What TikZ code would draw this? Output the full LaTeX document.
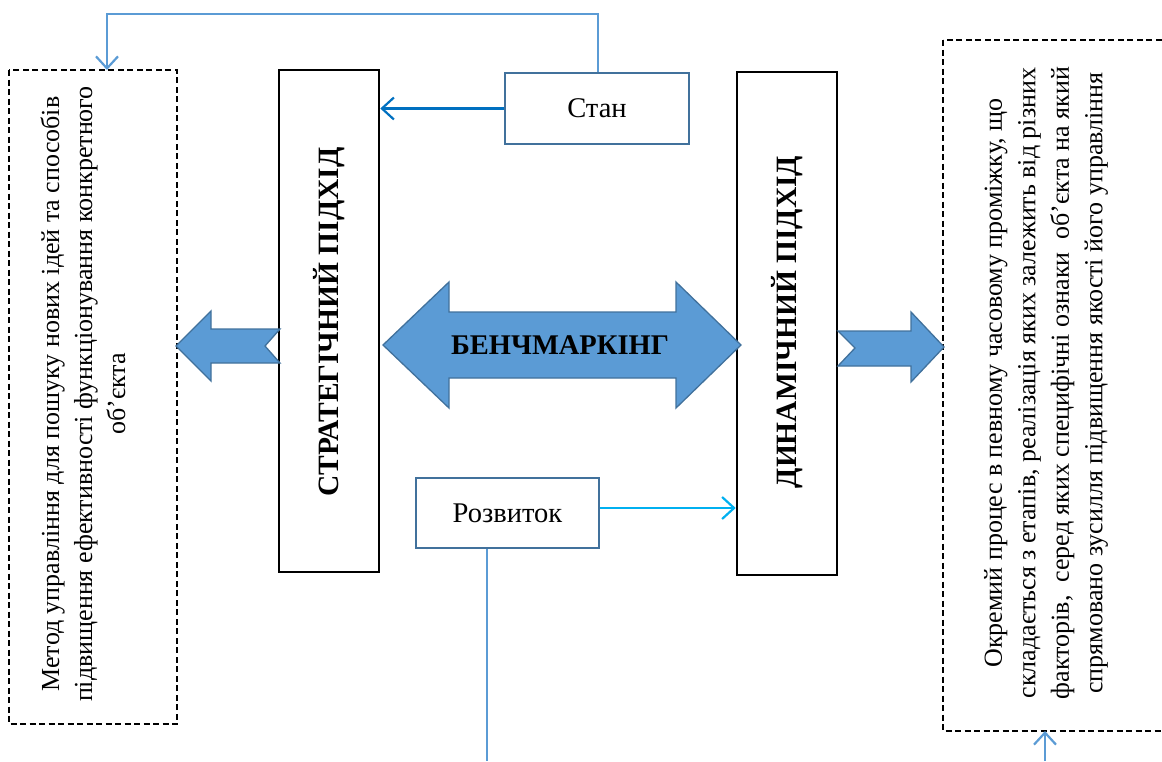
\documentclass[tikz,border=0pt]{standalone}
\usepackage{fontspec}
\setmainfont{Liberation Serif}
\usetikzlibrary{arrows.meta}
\definecolor{boxblue}{HTML}{41719C}
\definecolor{lineblue}{HTML}{5B9BD5}
\definecolor{darkblue}{HTML}{0070C0}
\definecolor{cyanblue}{HTML}{00B0F0}
\definecolor{fillblue}{HTML}{5B9BD5}
\tikzset{
  bigbox/.style={draw=black,line width=2.6pt,minimum width=100pt,inner sep=0pt},
  dashbox/.style={draw=black,line width=2pt,dash pattern=on 6pt off 3.5pt},
  smallbox/.style={draw=boxblue,line width=2.2pt,fill=white,inner sep=0pt,font=\fontsize{28.5}{32}\selectfont},
  conn/.style={line width=2.2pt},
  barb/.style={-{Straight Barb[length=12pt,width=22pt,line width=2.2pt]}},
  blockarrow/.style={fill=fillblue,draw=boxblue,line width=1.3pt,line join=miter},
  longtext/.style={rotate=90,align=center,inner sep=0pt,font=\fontsize{26}{33.5}\selectfont},
  boldlabel/.style={rotate=90,inner sep=0pt,font=\bfseries\fontsize{29.5}{32}\selectfont}
}
\begin{document}
\begin{tikzpicture}[x=1pt,y=-1pt]
\useasboundingbox (0,0) rectangle (1162,761);
% boxes
\node[bigbox,minimum height=502pt] (strat) at (329,321) {};
\node[bigbox,minimum height=503pt] (dyn) at (787,323.5) {};
\node[smallbox,minimum width=184pt,minimum height=71pt] (stan) at (597,108.5) {Стан};
\node[smallbox,minimum width=183pt,minimum height=70pt] (rozv) at (507.5,513) {Розвиток};
\draw[dashbox] (9,70) rectangle (177,724);
\coordinate (leftN) at (107,70);
\draw[dashbox] (943,40) rectangle (1164,731);
\coordinate (rightS) at (1045,731);
% labels
\node[boldlabel] (stratlab) at (329,322) {СТРАТЕГІЧНИЙ ПІДХІД};
\node[boldlabel] (dynlab) at (787,322) {ДИНАМІЧНИЙ ПІДХІД};
\node[longtext,font=\fontsize{26}{33}\selectfont] (lefttext) at (83,394) {Метод управління для пошуку нових ідей та способів\\підвищення ефективності функціонування конкретного\\об’єкта};
\node[longtext] (righttext) at (1046,383) {Окремий процес в певному часовому проміжку, що\\складається з етапів, реалізація яких залежить від різних\\факторів,\ \ серед яких специфічні ознаки\ \ об’єкта на який\\спрямовано зусилля підвищення якості його управління};
% block arrows
\draw[blockarrow] (383,345) -- (449,282) -- (449,312) -- (676,312) -- (676,282) -- (741,345) -- (676,408) -- (676,378) -- (449,378) -- (449,408) -- cycle;
\node[font=\bfseries\fontsize{28.5}{32}\selectfont] (bench) at (560,345) {БЕНЧМАРКІНГ};
\draw[blockarrow] (280,329) -- (211,329) -- (211,311) -- (176,346) -- (211,381) -- (211,363) -- (280,363) -- (265,346) -- cycle;
\draw[blockarrow] (838,331) -- (911,331) -- (911,312) -- (944,347) -- (911,382) -- (911,366) -- (838,366) -- (855,348) -- cycle;
% connectors
\coordinate (xs) at (598,0);
\coordinate (tl) at (107,14);
\draw[conn,lineblue,barb] (stan.north -| xs) |- (tl) -- (leftN);
\draw[conn,darkblue,barb] (stan.west) -- (stan.west -| strat.east);
\draw[conn,cyanblue,barb] ([yshift=5pt]rozv.east) -- ([yshift=5pt]rozv.east -| dyn.west);
\coordinate (bot) at (487,761);
\draw[conn,lineblue] (rozv.south -| bot) -- (bot);
\coordinate (bot2) at (1045,761);
\draw[conn,lineblue,barb] (bot2) -- (rightS);
\end{tikzpicture}
\end{document}
